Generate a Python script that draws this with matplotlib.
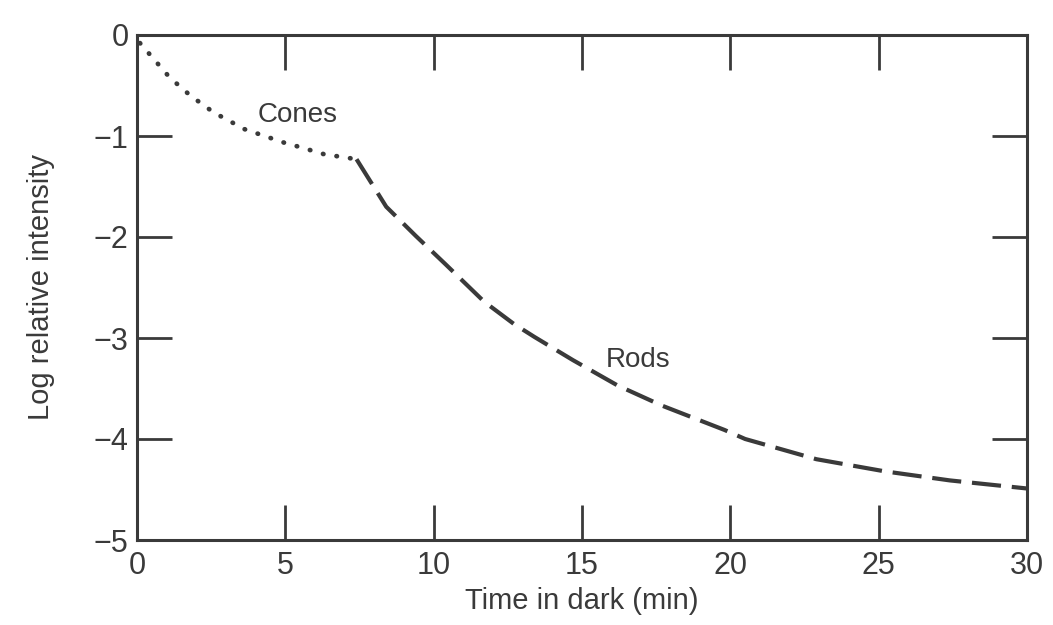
import matplotlib
matplotlib.use("Agg")
import matplotlib.pyplot as plt

# Data
cones_x = [0.1, 1.1, 1.8, 2.6, 3.05, 3.6, 5.0, 5.5, 6.3, 7.4]
cones_y = [-0.08, -0.42, -0.60, -0.77, -0.84, -0.93, -1.07, -1.11, -1.18, -1.23]
rods_x = [7.4, 8.4, 9.4, 10.4, 11.7, 12.7, 13.4, 14.7, 16.2, 17.7, 19.8, 20.5,
          22.9, 25.2, 27.4, 30.0]
rods_y = [-1.23, -1.70, -1.99, -2.27, -2.64, -2.86, -2.99, -3.22, -3.47, -3.67,
          -3.91, -4.00, -4.20, -4.32, -4.41, -4.49]
x_ticks = [0, 5, 10, 15, 20, 25, 30]
y_ticks = [0, -1, -2, -3, -4, -5]

plt.rcParams['font.family'] = ['Liberation Sans', 'DejaVu Sans']
ink = '#3a3a3a'

fig = plt.figure(figsize=(10.53, 6.25), dpi=100)
ax = fig.add_axes([137/1053, 1 - 540/625, (1027-137)/1053, (540-35)/625])

ax.plot(cones_x, cones_y, color=ink, lw=3.4, linestyle=(0, (0.1, 2.8)),
        dash_capstyle='round')
ax.plot(rods_x, rods_y, color=ink, lw=3.0, linestyle=(0, (7, 2.6)),
        dash_capstyle='butt')

ax.text(4.05, -0.79, 'Cones', fontsize=20, color=ink, va='center', ha='left')
ax.text(15.8, -3.22, 'Rods', fontsize=20, color=ink, va='center', ha='left')

ax.set_xlim(0, 30)
ax.set_ylim(-5, 0)
ax.set_xticks(x_ticks)
ax.set_yticks(y_ticks)
ax.set_xticklabels([str(v) for v in x_ticks])
ax.set_yticklabels(['0' if v == 0 else '\u2212' + str(-v) for v in y_ticks])

for s in ax.spines.values():
    s.set_linewidth(2.2)
    s.set_color(ink)

ax.tick_params(axis='both', which='major', direction='in', length=25, width=2.0,
               colors=ink, labelsize=22, labelcolor=ink)
ax.tick_params(axis='x', pad=8)
ax.tick_params(axis='y', pad=6)
ax.tick_params(top=True, right=True)

ax.set_xlabel('Time in dark (min)', fontsize=21, color=ink, labelpad=4)
ax.set_ylabel('Log relative intensity', fontsize=21, color=ink, labelpad=28)

fig.savefig('out.png', dpi=100)
